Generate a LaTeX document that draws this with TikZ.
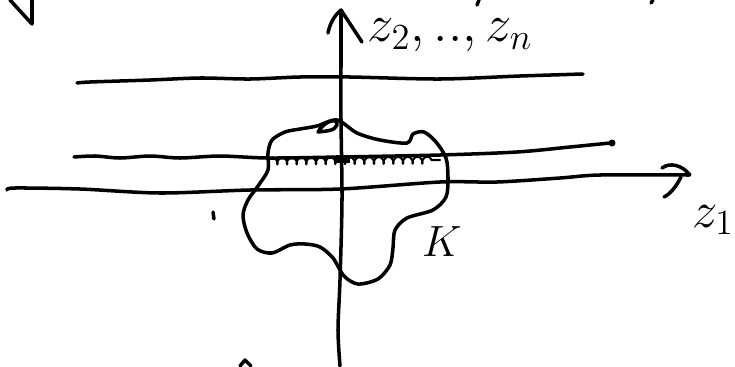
\documentclass[tikz,border=0pt]{standalone}
\usetikzlibrary{decorations.pathmorphing}

\begin{document}
\begin{tikzpicture}[x=0.02cm, y=-0.02cm, line join=round, line cap=round,
    pen/.style={line width=2pt},
    hatch/.style={line width=1.2pt, decorate, decoration={coil, aspect=0.6, amplitude=2pt, segment length=5.5pt}},
    lbl/.style={inner sep=0pt, font=\huge}]
  \useasboundingbox (0,0) rectangle (735,366);

  % Reste oben links und oben
  \draw[pen] (10,0) -- (32,24) -- (32,0);
  \draw[pen] (479,0) -- (477,5);
  \draw[pen] (653,0) -- (651,3);

  % vertikale Achse
  \draw[pen] plot[smooth] coordinates {(340,366) (338,330) (340,280) (342,200) (341,120) (341,60) (341,11)};
  \draw[pen] (328,33) .. controls (330,22) and (336,14) .. (341,10) -- (362,42);
  \node[lbl, scale=1.45, anchor=west] (zv) at (367,35) {$z_2,..,z_n$};

  % horizontale Geraden
  \draw[pen] plot[smooth] coordinates {(77,83) (90,82) (150,80) (200,78) (250,79) (300,77) (350,77) (440,79) (520,76) (583,74)};
  \draw[pen] plot[smooth] coordinates {(74,157) (95,156) (120,158) (150,156) (180,158) (220,156) (268,158) (340,157) (440,155) (517,152) (570,147) (610,143)};
  \fill (612,143) circle (3.5);

  % z_1-Achse
  \draw[pen] plot[smooth] coordinates {(7,190) (15,188) (80,189) (160,193) (250,190) (340,189) (440,182) (497,182) (560,178) (600,175) (689,175)};
  \draw[pen] (662,168) .. controls (670,162) and (682,165) .. (690,175);
  \draw[pen] (681,177) .. controls (676,187) and (670,194) .. (664,197);
  \node[lbl, scale=1.4] (zh) at (713,220) {$z_1$};

  % Menge K
  \draw[pen] plot[smooth cycle] coordinates {(337,120) (357,133) (380,140) (407,143) (413,134) (424,132) (436,142) (446,158) (448,178) (446,197) (433,210) (407,218) (395,230) (393,248) (390,265) (378,279) (358,284) (344,276) (333,258) (320,247) (305,244) (290,245) (272,253) (257,249) (247,233) (243,215) (248,200) (258,186) (268,170) (268,153) (272,140) (285,132) (300,129) (317,126)};
  \draw[pen] (318,132) .. controls (324,121) and (338,117) .. (337,125) .. controls (335,131) and (326,131) .. (318,132);
  \node[lbl, scale=1.2] (k) at (442,242) {$K$};

  % Schnitt mit der Geraden
  \draw[hatch] (268,161) -- (440,160);
  \fill (336,155) rectangle (350,163);

  % kleine Striche
  \draw[pen] (213,212) -- (214,219);
  \draw[pen] (240,366) -- (245,360) -- (251,366);
\end{tikzpicture}
\end{document}
